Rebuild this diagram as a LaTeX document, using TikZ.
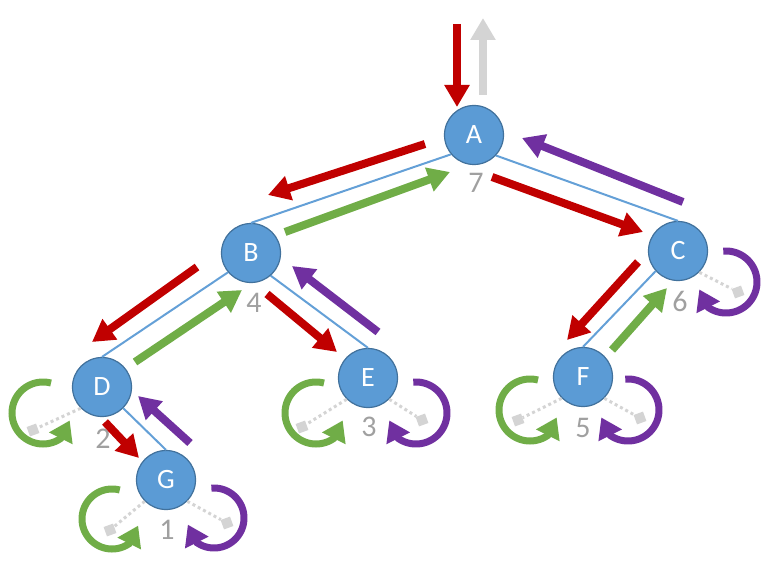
\documentclass[tikz,border=0pt]{standalone}
\usepackage{fontspec}
\setmainfont{Carlito}
\usetikzlibrary{arrows.meta}
\definecolor{nodeblue}{RGB}{91,155,213}
\definecolor{nodeborder}{RGB}{65,113,156}
\definecolor{edgeblue}{RGB}{100,160,215}
\definecolor{myred}{RGB}{192,0,0}
\definecolor{mygreen}{RGB}{112,173,71}
\definecolor{mypurple}{RGB}{112,48,160}
\definecolor{lightgr}{RGB}{212,212,212}
\definecolor{numgray}{RGB}{160,160,160}
\newcommand{\GLoop}[3]{\draw[looparrow, mygreen] plot[domain=0:1, samples=60, variable=\t] ({#1+#3*cos(-75-230*\t)},{#2+#3*sin(-75-230*\t)}) -- ++(9,-18);}
\newcommand{\PLoop}[3]{\draw[looparrow, mypurple] plot[domain=0:1, samples=60, variable=\t] ({#1+#3*cos(-95+220*\t)},{#2+#3*sin(-95+220*\t)}) -- ++(-9,-18);}
\begin{document}
\begin{tikzpicture}[x=1pt,y=-1pt,
 tnode/.style={circle, fill=nodeblue, draw=nodeborder, line width=1.2pt, minimum size=59pt, inner sep=0pt, text=white, font=\fontsize{28}{28}\selectfont},
 num/.style={text=numgray, inner sep=0pt, font=\fontsize{30}{30}\selectfont},
 edge/.style={draw=edgeblue, line width=2pt},
 bigarrow/.style={line width=8pt, -{Triangle[length=22pt,width=24pt]}},
 looparrow/.style={line width=7pt, -{Triangle[length=20pt,width=25pt]}},
 nullsq/.style={fill=lightgr, minimum size=10pt, inner sep=0pt, rotate=20},
 nullline/.style={draw=lightgr, line width=3pt, dash pattern=on 3pt off 3pt}
]
\useasboundingbox (0,0) rectangle (778,561);

% tree nodes
\node[tnode] (A) at (474,135) {A};
\node[tnode] (B) at (251,253) {B};
\node[tnode] (C) at (678,251) {C};
\node[tnode] (D) at (102,387) {D};
\node[tnode] (E) at (368,378) {E};
\node[tnode] (F) at (583,377) {F};
\node[tnode] (G) at (166,480) {G};

% edges
\draw[edge] (A.220) -- (B.north);
\draw[edge] (A.-43) -- (C.north);
\draw[edge] (B.220) -- (D.north);
\draw[edge] (B.-49) -- (E.north);
\draw[edge] (D.-45) -- (G.north);
\draw[edge] (C.222) -- (F.north);

% null children
\node[nullsq] (nD) at (33,430) {};
\node[nullsq] (nGl) at (110,530) {};
\node[nullsq] (nGr) at (227,523) {};
\node[nullsq] (nEl) at (302,427) {};
\node[nullsq] (nEr) at (422,420) {};
\node[nullsq] (nFl) at (518,420) {};
\node[nullsq] (nFr) at (640,418) {};
\node[nullsq] (nCr) at (738,292) {};
\draw[nullline] (D.225) -- (nD);
\draw[nullline] (G.225) -- (nGl);
\draw[nullline] (G.-45) -- (nGr);
\draw[nullline] (E.225) -- (nEl);
\draw[nullline] (E.-45) -- (nEr);
\draw[nullline] (F.225) -- (nFl);
\draw[nullline] (F.-45) -- (nFr);
\draw[nullline] (C.-45) -- (nCr);

% loops
\GLoop{43}{413}{31}
\GLoop{112}{519}{30}
\PLoop{214}{518}{30}
\GLoop{316}{413}{31}
\PLoop{416}{413}{31}
\GLoop{530}{410}{31}
\PLoop{628}{410}{31}
\PLoop{726}{282}{31}

% order numbers
\node[num] (n7) at (476,183) {7};
\node[num] (n4) at (254,303) {4};
\node[num] (n6) at (680,301) {6};
\node[num] (n2) at (103,439) {2};
\node[num] (n3) at (369,427) {3};
\node[num] (n5) at (583,428) {5};
\node[num] (n1) at (167,530) {1};

% traversal arrows
\draw[bigarrow, myred] (457,24) -- (457,107);
\draw[bigarrow, lightgr] (483,95) -- (483,18);
\draw[bigarrow, myred] (425,144) -- (268,195);
\draw[bigarrow, mygreen] (285,232) -- (450,172);
\draw[bigarrow, myred] (492,177) -- (643,232);
\draw[bigarrow, mypurple] (683,202) -- (522,138);
\draw[bigarrow, myred] (197,267) -- (92,342);
\draw[bigarrow, mygreen] (135,362) -- (242,290);
\draw[bigarrow, myred] (267,294) -- (337,352);
\draw[bigarrow, mypurple] (378,332) -- (292,266);
\draw[bigarrow, myred] (105,422) -- (139,458);
\draw[bigarrow, mypurple] (190,443) -- (138,396);
\draw[bigarrow, myred] (638,262) -- (567,340);
\draw[bigarrow, mygreen] (612,350) -- (667,288);
\end{tikzpicture}
\end{document}
